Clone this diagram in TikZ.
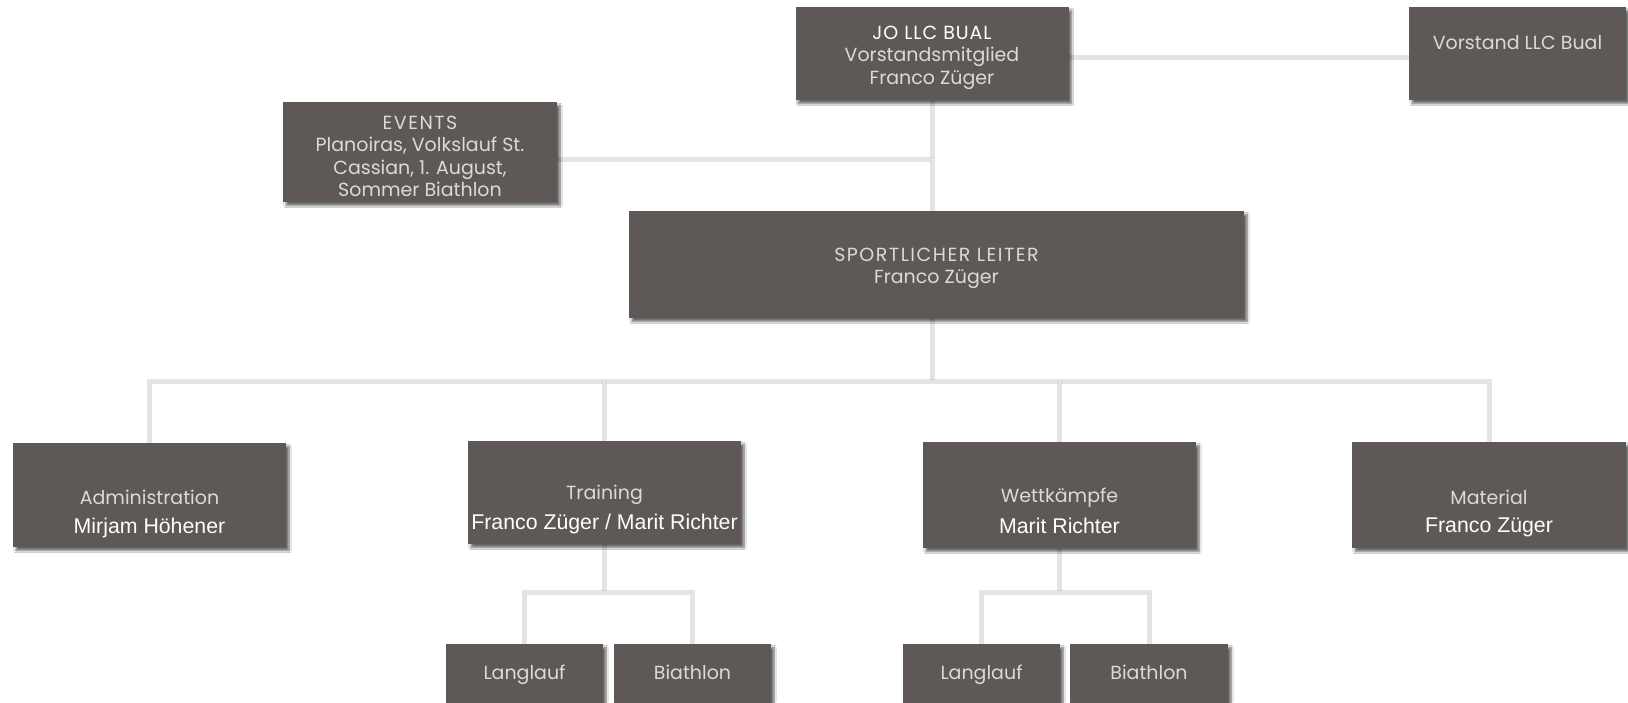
\documentclass[tikz,border=0pt]{standalone}
\usepackage{fontspec}
\setmainfont{Poppins}
\newfontfamily\namefont{Liberation Sans}
\usetikzlibrary{shadows.blur,backgrounds}
\definecolor{boxc}{HTML}{5E5956}
\definecolor{labc}{HTML}{DCDAD9}
\definecolor{linec}{HTML}{E4E4E4}
\newcommand{\capsp}[2]{{\addfontfeature{LetterSpace=#1}#2}}
\tikzset{
  box/.style={fill=boxc, inner sep=0pt, text=labc, align=center,
    font=\fontsize{19}{22.5}\selectfont, text height=14pt, text depth=4pt,
    blur shadow={shadow xshift=3pt, shadow yshift=-3.5pt, shadow opacity=60, shadow blur steps=7}},
  lab/.style={text=labc, font=\fontsize{19}{22.5}\selectfont, inner sep=0pt, align=center},
  nm/.style={text=white, font=\namefont\fontsize{21.3}{24}\selectfont, inner sep=0pt},
  conn/.style={draw=linec, line width=3pt,
    preaction={draw=black!35, line width=5pt, opacity=0.3}},
}
\begin{document}
\begin{tikzpicture}[x=1pt,y=-1pt]
\useasboundingbox (0,0) rectangle (1628,702);
\clip (0,0) rectangle (1628,702);
% top row
\node[box, minimum width=273pt, minimum height=93pt] (jo) at (932,53.5) {};
\node[lab] (jot) at (932,57.5)
  {\textcolor{white}{\capsp{5}{JO LLC BUAL}}\\Vorstandsmitglied\\Franco Züger};
\node[box, minimum width=217pt, minimum height=93pt] (vor) at (1517.5,53.5) {};
\node[lab] (vort) at (1517.5,43) {Vorstand LLC Bual};
\node[box, minimum width=274pt, minimum height=100pt] (ev) at (420,152) {};
\node[lab] (evt) at (420,156.5)
  {\capsp{8}{EVENTS}\\Planoiras, Volkslauf St.\\Cassian, 1. August,\\Sommer Biathlon};
\node[box, minimum width=615pt, minimum height=107pt] (sp) at (936.5,264.5) {};
\node[lab] (spt) at (936.5,268.5) {\capsp{8}{SPORTLICHER LEITER}\\Franco Züger};
% second row
\node[box, minimum width=273pt, minimum height=104pt] (adm) at (149.5,495) {};
\node[lab] (admt) at (149.5,497) {Administration};
\node[nm] (admn) at (149.5,528) {Mirjam Höhener};
\node[box, minimum width=273pt, minimum height=103pt] (tr) at (604.5,492.5) {};
\node[lab] (trt) at (604.5,495) {Training};
\node[nm] (trn) at (604.5,524) {Franco Züger / Marit Richter};
\node[box, minimum width=273pt, minimum height=106pt] (wk) at (1059.5,495) {};
\node[lab] (wkt) at (1059.5,497.5) {Wettkämpfe};
\node[nm] (wkn) at (1059.5,526) {Marit Richter};
\node[box, minimum width=274pt, minimum height=106pt] (mat) at (1489,495) {};
\node[lab] (matt) at (1489,497) {Material};
\node[nm] (matn) at (1489,527) {Franco Züger};
% third row
\node[box, minimum width=157pt, minimum height=60pt] (l1) at (524.5,674) {Langlauf};
\node[box, minimum width=157pt, minimum height=60pt] (b1) at (692.5,674) {Biathlon};
\node[box, minimum width=157pt, minimum height=60pt] (l2) at (981.5,674) {Langlauf};
\node[box, minimum width=158pt, minimum height=60pt] (b2) at (1149,674) {Biathlon};
% connectors
\coordinate (yj) at (0,57);
\coordinate (ye) at (0,159);
\coordinate (yb) at (0,381);
\coordinate (yt) at (0,592);
\begin{scope}[on background layer]
\fill[white] (0,0) rectangle (1628,702);
\draw[conn] (jo.east |- yj) -- (vor.west |- yj);
\draw[conn] (jo.south) -- (jo.south |- sp.north);
\draw[conn] (ev.east |- ye) -- (jo.south |- ye);
\draw[conn] (jo.south |- sp.south) -- (jo.south |- yb);
\draw[conn] (adm.north) -- (adm.north |- yb) -- (mat.north |- yb) -- (mat.north);
\draw[conn] (tr.north |- yb) -- (tr.north);
\draw[conn] (wk.north |- yb) -- (wk.north);
\draw[conn] (tr.south) -- (tr.south |- yt);
\draw[conn] (l1.north) -- (l1.north |- yt) -- (b1.north |- yt) -- (b1.north);
\draw[conn] (wk.south) -- (wk.south |- yt);
\draw[conn] (l2.north) -- (l2.north |- yt) -- (b2.north |- yt) -- (b2.north);
\end{scope}
\end{tikzpicture}
\end{document}
